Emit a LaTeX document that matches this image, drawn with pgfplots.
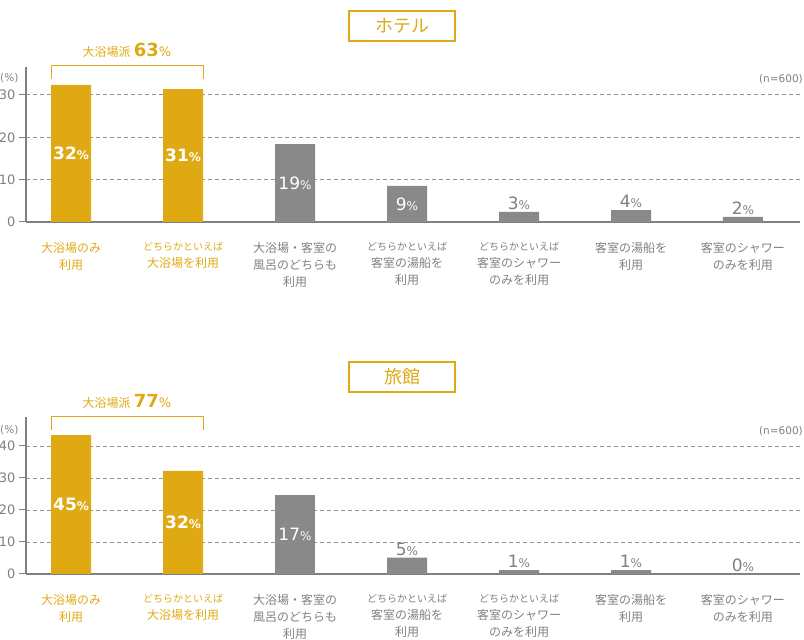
\documentclass[border=0pt]{standalone}
\usepackage{fontspec}
\setmainfont{DejaVu Sans}
\newfontfamily\jp{Noto Sans CJK JP}
\usepackage{pgfplots}
\usepackage{pgfplotstable}
\pgfplotsset{compat=1.18}

\definecolor{gold}{RGB}{223,169,20}
\definecolor{bargray}{RGB}{137,137,137}
\definecolor{txtgray}{RGB}{128,128,128}
\definecolor{gridgray}{RGB}{150,150,150}

\newcommand\g[1]{\textcolor{gold}{#1}}
\newcommand\sm[1]{{\fontsize{10}{10}\selectfont #1}}

% hotel
\pgfplotstableread{
x y lab
0 32.4 32
1 31.4 31
}\hotelgold
\pgfplotstableread{
x y lab
2 18.4 19
3 8.5 9
}\hotelgrayin
\pgfplotstableread{
x y lab
4 2.4 3
5 2.8 4
6 1.2 2
}\hotelgrayout

% ryokan
\pgfplotstableread{
x y lab
0 43.4 45
1 32.2 32
}\ryokangold
\pgfplotstableread{
x y lab
2 24.7 17
}\ryokangrayin
\pgfplotstableread{
x y lab
3 5.1 5
4 1.2 1
5 1.2 1
6 0 0
}\ryokangrayout

\pgfplotsset{
  panel/.style={
    scale only axis, width=774pt, anchor=south west,
    xmin=-0.402, xmax=6.509, ymin=0,
    axis x line*=bottom, axis y line*=left,
    axis line style={txtgray, line width=1.2pt, -},
    xtick={0,...,6}, major x tick style={draw=none},
    ytick style={txtgray, line width=1pt}, tick align=outside, major tick length=7pt,
    ymajorgrids, grid style={gridgray, dash pattern=on 4pt off 3pt, line width=0.9pt},
    /pgf/number format/assume math mode=true,
    yticklabel style={font=\fontsize{13}{13}\selectfont, text=txtgray},
    xticklabel style={font=\jp\fontsize{12}{17}\selectfont, text=txtgray, align=center, anchor=north, yshift=-10pt},
    xticklabels={{\g{大浴場のみ}\\\g{利用}},
      {\g{\sm{どちらかといえば}}\\\g{大浴場を利用}},
      {大浴場・客室の\\風呂のどちらも\\利用},
      {\sm{どちらかといえば}\\客室の湯船を\\利用},
      {\sm{どちらかといえば}\\客室のシャワー\\のみを利用},
      {客室の湯船を\\利用},
      {客室のシャワー\\のみを利用}},
    bar width=40pt,
    clip=false,
  },
  goldbar/.style={ybar, bar shift=0pt, fill=gold, draw=none},
  graybar/.style={ybar, bar shift=0pt, fill=bargray, draw=none},
  inlab/.style={draw=none, mark=none, point meta=explicit symbolic,
    nodes near coords={\pgfplotspointmeta{\fontsize{12}{12}\selectfont\%}},
    every node near coord/.append style={anchor=center, text=white, font=\fontsize{17}{17}\selectfont#1}},
  outlab/.style={draw=none, mark=none, point meta=explicit symbolic,
    nodes near coords={\pgfplotspointmeta{\fontsize{12}{12}\selectfont\%}},
    every node near coord/.append style={anchor=south, text=txtgray, inner sep=2pt, font=\fontsize{17}{17}\selectfont}},
}

\begin{document}
\begin{tikzpicture}[x=1pt, y=1pt]
\useasboundingbox (0,0) rectangle (804,640);

% ---------- hotel ----------
\begin{axis}[panel, at={(26pt,418pt)}, height=155pt, ymax=36.6, ytick={0,10,20,30}]
\addplot[goldbar] table[x=x, y=y] {\hotelgold};
\addplot[graybar] table[x=x, y=y] {\hotelgrayin};
\addplot[graybar] table[x=x, y=y] {\hotelgrayout};
\addplot[inlab=\bfseries] table[x=x, y expr=\thisrow{y}/2, meta=lab] {\hotelgold};
\addplot[inlab=] table[x=x, y expr=\thisrow{y}/2, meta=lab] {\hotelgrayin};
\addplot[outlab] table[x=x, y=y, meta=lab] {\hotelgrayout};
\end{axis}

% ---------- ryokan ----------
\begin{axis}[panel, at={(26pt,66pt)}, height=157pt, ymax=49.06, ytick={0,10,20,30,40}]
\addplot[goldbar] table[x=x, y=y] {\ryokangold};
\addplot[graybar] table[x=x, y=y] {\ryokangrayin};
\addplot[graybar] table[x=x, y=y] {\ryokangrayout};
\addplot[inlab=\bfseries] table[x=x, y expr=\thisrow{y}/2, meta=lab] {\ryokangold};
\addplot[inlab=] table[x=x, y expr=\thisrow{y}/2, meta=lab] {\ryokangrayin};
\addplot[outlab] table[x=x, y=y, meta=lab] {\ryokangrayout};
\end{axis}

% titles
\draw[gold, line width=1.3pt] (349,629) rectangle (455,599);
\node[text=gold, font=\jp\fontsize{18}{18}\selectfont] at (402,614) {ホテル};
\draw[gold, line width=1.3pt] (349,278) rectangle (455,248);
\node[text=gold, font=\jp\fontsize{18}{18}\selectfont] at (402,263) {旅館};

% brackets
\draw[gold, line width=1pt] (51,561) -- (51,574) -- (203,574) -- (203,561);
\node[anchor=base, text=gold, inner sep=0pt] at (127,583)
  {{\jp\fontsize{12}{12}\selectfont 大浴場派} {\fontsize{18}{18}\selectfont\bfseries 63}{\fontsize{13}{13}\selectfont\%}};
\draw[gold, line width=1pt] (51,210) -- (51,223) -- (203,223) -- (203,210);
\node[anchor=base, text=gold, inner sep=0pt] at (127,232)
  {{\jp\fontsize{12}{12}\selectfont 大浴場派} {\fontsize{18}{18}\selectfont\bfseries 77}{\fontsize{13}{13}\selectfont\%}};

% units
\node[text=txtgray, font=\fontsize{10.5}{10.5}\selectfont, anchor=west, inner sep=0pt] at (0,562) {(\%)};
\node[text=txtgray, font=\fontsize{10.5}{10.5}\selectfont, anchor=east, inner sep=0pt] at (803,561) {(n=600)};
\node[text=txtgray, font=\fontsize{10.5}{10.5}\selectfont, anchor=west, inner sep=0pt] at (0,210) {(\%)};
\node[text=txtgray, font=\fontsize{10.5}{10.5}\selectfont, anchor=east, inner sep=0pt] at (803,209) {(n=600)};
\end{tikzpicture}
\end{document}
